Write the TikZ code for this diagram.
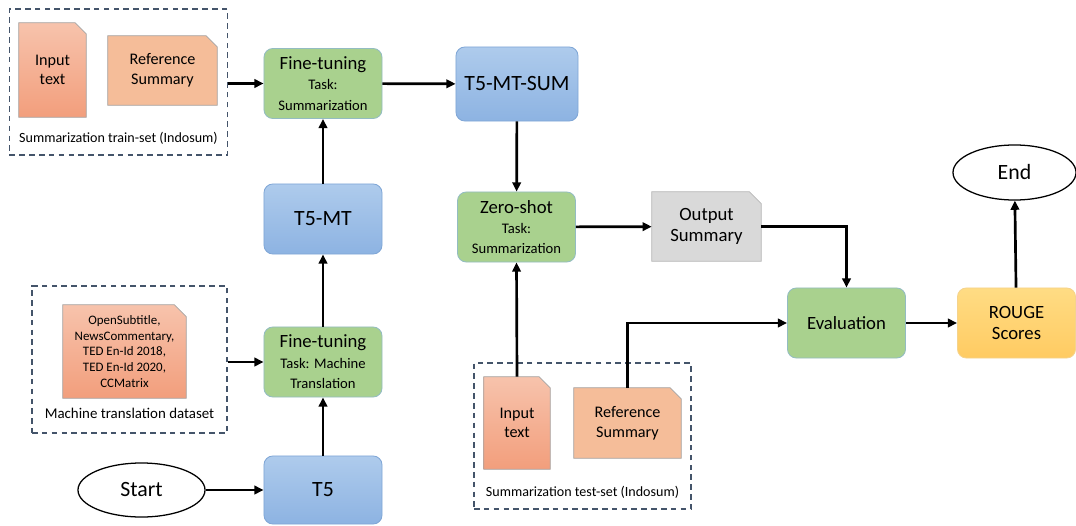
\documentclass[tikz,border=0pt]{standalone}
\usepackage{fontspec}
\setmainfont{Carlito}
\usetikzlibrary{arrows.meta,shapes.geometric,backgrounds}

\definecolor{bluetop}{HTML}{AECBEC}
\definecolor{bluebot}{HTML}{8DB3E2}
\definecolor{blueline}{HTML}{7FA6D6}
\definecolor{greenfill}{HTML}{A9D18E}
\definecolor{greenline}{HTML}{93BCC2}
\definecolor{yellowtop}{HTML}{FFDC84}
\definecolor{yellowbot}{HTML}{FFCB62}
\definecolor{yellowline}{HTML}{F5D38C}
\definecolor{salmontop}{HTML}{F7C3AC}
\definecolor{salmonbot}{HTML}{F29E7C}
\definecolor{peach}{HTML}{F5BD99}
\definecolor{docgray}{HTML}{D9D9D9}
\definecolor{docline}{HTML}{A5A5A5}
\definecolor{dashline}{HTML}{44546A}

\newcommand{\hugefont}{\fontsize{15.5}{18}\selectfont}
\newcommand{\bigfont}{\fontsize{13.3}{14.5}\selectfont}
\newcommand{\taskfont}{\fontsize{10.4}{11.6}\selectfont}
\newcommand{\docfont}{\fontsize{11.5}{14}\selectfont}
\newcommand{\listfont}{\fontsize{9.2}{11.3}\selectfont}
\newcommand{\setfont}{\fontsize{10}{12}\selectfont}

% paper sheet with a cut corner behind a named node
\newcommand{\docpaper}[3][0.28cm]{%
  \path[#3] (#2.south west) -- (#2.north west) -- ([xshift=-#1]#2.north east)
    -- ([yshift=-#1]#2.north east) -- (#2.south east) -- cycle;}

\tikzset{
  box/.style={rounded corners=0.22cm, minimum width=2.95cm, minimum height=1.75cm,
    align=center, inner sep=1pt, line width=0.6pt},
  bluebox/.style={box, draw=blueline, top color=bluetop, bottom color=bluebot, font=\hugefont},
  greenbox/.style={box, draw=greenline, fill=greenfill, font=\bigfont},
  yellowbox/.style={box, draw=yellowline, top color=yellowtop, bottom color=yellowbot, font=\bigfont},
  terminal/.style={ellipse, draw, line width=0.9pt, inner sep=0pt, font=\hugefont},
  doc/.style={align=center, inner sep=0pt, font=\docfont},
  dataset/.style={draw=dashline, line width=0.9pt, dash pattern=on 4pt off 3pt, inner sep=0pt},
  setlabel/.style={font=\setfont, inner sep=0pt},
  flow/.style={-{Triangle[length=6.5pt,width=6pt]}, line width=1.9pt},
  salmonpaper/.style={top color=salmontop, bottom color=salmonbot, draw=docline, line width=0.5pt},
  peachpaper/.style={fill=peach, draw=docline, line width=0.5pt},
  graypaper/.style={fill=docgray, draw=docgray!85!black, line width=0.5pt},
}

\begin{document}
\begin{tikzpicture}[x=0.025cm, y=-0.025cm]
  \useasboundingbox (0,0) rectangle (1076,525);

  % dataset frames
  \node[dataset, minimum width=5.45cm, minimum height=3.65cm] (trainset) at (118.5,82) {};
  \node[dataset, minimum width=4.875cm, minimum height=3.675cm] (mtset) at (129.5,359.5) {};
  \node[dataset, minimum width=5.425cm, minimum height=3.65cm] (testset) at (582.5,436) {};
  \node[setlabel] (trainlbl) at (118.5,138) {Summarization train-set (Indosum)};
  \node[setlabel, font=\fontsize{10.6}{12}\selectfont] (mtlbl) at (129.5,413) {Machine translation dataset};
  \node[setlabel] (testlbl) at (582.5,492) {Summarization test-set (Indosum)};

  % documents
  \node[doc, minimum width=1.675cm, minimum height=2.35cm] (traininput) at (52.5,70) {Input\\text};
  \node[doc, minimum width=2.725cm, minimum height=1.725cm] (trainref) at (162.5,70.5) {Reference\\Summary};
  \node[doc, font=\listfont, minimum width=3.075cm, minimum height=2.325cm] (mtdata) at (124.5,351.5)
    {OpenSubtitle,\\NewsCommentary,\\TED En-Id 2018,\\TED En-Id 2020,\\CCMatrix};
  \node[doc, minimum width=1.65cm, minimum height=2.3cm] (testinput) at (517,423) {Input\\text};
  \node[doc, minimum width=2.675cm, minimum height=1.75cm] (testref) at (627.5,423) {Reference\\Summary};
  \node[doc, font=\bigfont, minimum width=2.725cm, minimum height=1.725cm] (outsum) at (706.5,226.5) {Output\\Summary};
  \begin{scope}[on background layer]
    \docpaper{traininput}{salmonpaper}
    \docpaper{trainref}{peachpaper}
    \docpaper[0.3cm]{mtdata}{salmonpaper}
    \docpaper{testinput}{salmonpaper}
    \docpaper{testref}{peachpaper}
    \docpaper[0.3cm]{outsum}{graypaper}
  \end{scope}

  % models and steps
  \node[terminal, minimum width=3.175cm, minimum height=1.35cm] (start) at (141.5,490) {Start};
  \node[bluebox, minimum height=1.7cm] (t5) at (323,490) {T5};
  \node[greenbox] (ftmt) at (323,362) {Fine-tuning\\\taskfont Task: Machine\\\taskfont Translation};
  \node[bluebox] (t5mt) at (323,219) {T5-MT};
  \node[greenbox] (ftsum) at (323,83.5) {Fine-tuning\\\taskfont Task:\\\taskfont Summarization};
  \node[bluebox, minimum width=3.05cm, minimum height=1.85cm] (t5mtsum) at (517,84) {T5-MT-SUM};
  \node[greenbox] (zeroshot) at (516.5,227) {Zero-shot\\\taskfont Task:\\\taskfont Summarization};
  \node[greenbox] (eval) at (846.5,323) {Evaluation};
  \node[yellowbox] (rouge) at (1016.5,323) {ROUGE\\Scores};
  \node[terminal, minimum width=3.075cm, minimum height=1.375cm] (end) at (1014.5,172.5) {End};

  % flow
  \draw[flow] (start) -- (t5);
  \draw[flow] (t5) -- (ftmt);
  \draw[flow] (mtset.east |- ftmt.west) -- (ftmt.west);
  \draw[flow] (ftmt) -- (t5mt);
  \draw[flow] (t5mt) -- (ftsum);
  \draw[flow] (trainset.east |- ftsum.west) -- (ftsum.west);
  \draw[flow] (ftsum) -- (t5mtsum);
  \draw[flow] (t5mtsum) -- (zeroshot);
  \draw[flow] (testinput.north) -- (zeroshot.south);
  \draw[flow] (zeroshot) -- (outsum);
  \draw[flow] (outsum.east) -| (eval.north);
  \draw[flow] (testref.north) |- (eval.west);
  \draw[flow] (eval) -- (rouge);
  \draw[flow] (rouge) -- (end);
\end{tikzpicture}
\end{document}
